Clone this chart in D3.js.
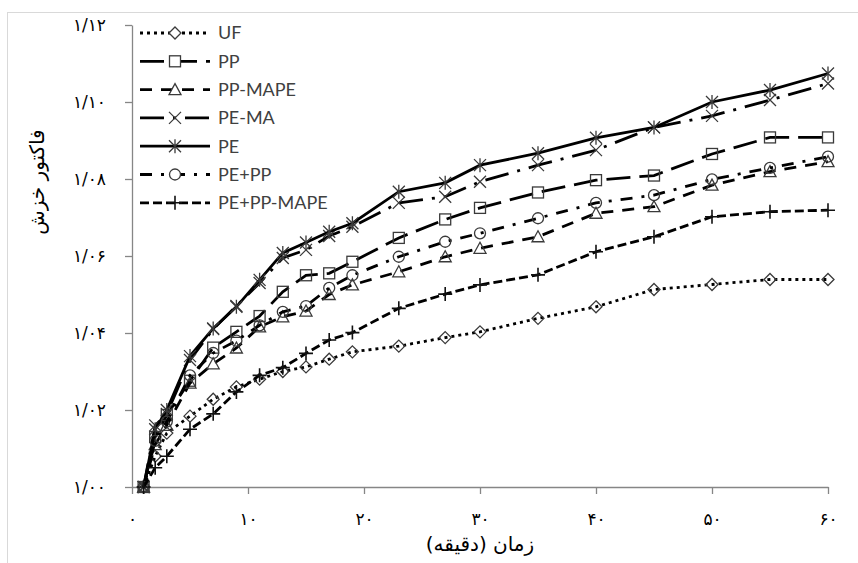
<!DOCTYPE html>
<html>
<head>
<meta charset="utf-8">
<script src="https://cdn.jsdelivr.net/npm/d3@7"></script>
<style>
  body { margin: 0; background: #fff; }
  svg { display: block; }
</style>
</head>
<body>
<div id="chart"></div>
<script>
// time (minutes)
const minutes = [1, 2, 3, 5, 7, 9, 11, 13, 15, 17, 19, 23, 27, 30, 35, 40, 45, 50, 55, 60];

// creep factor per series
const uf       = [1.000, 1.008, 1.014, 1.0184, 1.0228, 1.026, 1.028, 1.030, 1.0312, 1.0332, 1.0351, 1.0366, 1.0388, 1.0403, 1.0438, 1.0468, 1.0513, 1.0526, 1.0539, 1.0539];
const pp       = [1.000, 1.013, 1.0187, 1.0276, 1.0362, 1.0403, 1.0444, 1.0507, 1.055, 1.0555, 1.0585, 1.0647, 1.0695, 1.0725, 1.0765, 1.0797, 1.0809, 1.0865, 1.0908, 1.0908];
const ppMape   = [1.000, 1.011, 1.016, 1.027, 1.032, 1.0361, 1.0416, 1.0442, 1.0457, 1.050, 1.0525, 1.0559, 1.0598, 1.062, 1.065, 1.0711, 1.0728, 1.0784, 1.0819, 1.0845];
const peMa     = [1.000, 1.016, 1.019, 1.033, 1.041, 1.047, 1.053, 1.0595, 1.0616, 1.0652, 1.0676, 1.0738, 1.0754, 1.0793, 1.0836, 1.0875, 1.0934, 1.0964, 1.1005, 1.1048];
const pe       = [1.000, 1.015, 1.020, 1.034, 1.0412, 1.0468, 1.0538, 1.0608, 1.0635, 1.0663, 1.0685, 1.0767, 1.079, 1.0836, 1.0867, 1.0907, 1.0934, 1.100, 1.1031, 1.1074];
const pePp     = [1.000, 1.012, 1.017, 1.029, 1.0348, 1.038, 1.042, 1.0455, 1.047, 1.0517, 1.055, 1.0598, 1.0637, 1.0659, 1.0698, 1.0738, 1.0758, 1.0799, 1.0829, 1.0858];
const pePpMape = [1.000, 1.005, 1.008, 1.015, 1.019, 1.0247, 1.029, 1.031, 1.0347, 1.0382, 1.0401, 1.0464, 1.0501, 1.0525, 1.0551, 1.0611, 1.065, 1.0702, 1.0715, 1.0719];

const seriesNames = ["UF", "PP", "PP-MAPE", "PE-MA", "PE", "PE+PP", "PE+PP-MAPE"];
const seriesValues = [uf, pp, ppMape, peMa, pe, pePp, pePpMape];

const xTicks = [0, 10, 20, 30, 40, 50, 60];
const yTicks = [1.00, 1.02, 1.04, 1.06, 1.08, 1.10, 1.12];

const xTitle = "زمان (دقیقه)";
const yTitle = "فاکتور خزش";

// line dash + marker for each series (Excel style)
const styles = [
  { dash: "3 4",        marker: "diamond" },
  { dash: "24 9",       marker: "square" },
  { dash: "12 9",       marker: "triangle" },
  { dash: "24 9 3 9",   marker: "x" },
  { dash: null,         marker: "star" },
  { dash: "12 9 3 9",   marker: "circle" },
  { dash: "9 4",        marker: "plus" }
];

const width = 858, height = 563;
const x = d3.scaleLinear().domain([0, 60]).range([132, 828]);
const y = d3.scaleLinear().domain([1.00, 1.12]).range([487, 25]);

const fa = s => String(s).replace(/\d/g, d => "۰۱۲۳۴۵۶۷۸۹"[d]);

const svg = d3.select("#chart").append("svg")
  .attr("width", width)
  .attr("height", height);

// outer chart border
svg.append("rect")
  .attr("x", 7.5).attr("y", 12.5)
  .attr("width", 860).attr("height", 560)
  .attr("fill", "none")
  .attr("stroke", "#d9d9d9");

// axes
const xAxis = svg.append("g")
  .attr("transform", `translate(0,${y(1.00)})`)
  .call(d3.axisBottom(x).tickValues(xTicks).tickSize(7).tickSizeOuter(0).tickPadding(19).tickFormat(d => fa(d)));

const yAxis = svg.append("g")
  .attr("transform", `translate(${x(0)},0)`)
  .call(d3.axisLeft(y).tickValues(yTicks).tickSize(7).tickSizeOuter(0).tickPadding(19)
    .tickFormat(d => fa(d3.format(".2f")(d).replace(".", "/"))));

[xAxis, yAxis].forEach(g => {
  g.select(".domain").attr("stroke", "#868686").attr("stroke-width", 1.3);
  g.selectAll(".tick line").attr("stroke", "#868686").attr("stroke-width", 1.3);
  g.selectAll(".tick text")
    .attr("fill", "#000")
    .attr("font-family", "DejaVu Sans, sans-serif")
    .attr("font-size", 17);
});

svg.append("text")
  .attr("x", x(30)).attr("y", 551)
  .attr("text-anchor", "middle")
  .attr("font-family", "DejaVu Sans, sans-serif")
  .attr("font-size", 20)
  .text(xTitle);

svg.append("text")
  .attr("transform", "translate(44,182) rotate(-90)")
  .attr("text-anchor", "middle")
  .attr("font-family", "DejaVu Sans, sans-serif")
  .attr("font-size", 20)
  .text(yTitle);

// markers
function drawMarker(g, type, cx, cy) {
  const m = g.append("g").attr("transform", `translate(${cx},${cy})`)
    .attr("fill", "none").attr("stroke", "#3a3a3a").attr("stroke-width", 1.3);
  if (type === "diamond") m.append("path").attr("d", "M0,-6L6,0L0,6L-6,0Z");
  else if (type === "square") m.append("rect").attr("x", -5.5).attr("y", -5.5).attr("width", 11).attr("height", 11);
  else if (type === "triangle") m.append("path").attr("d", "M0,-6L6,5L-6,5Z");
  else if (type === "circle") m.append("circle").attr("r", 5.5);
  else if (type === "x") m.append("path").attr("d", "M-6,-6L6,6M-6,6L6,-6");
  else if (type === "star") m.append("path").attr("d", "M-6,-6L6,6M-6,6L6,-6M0,-7L0,7");
  else if (type === "plus") m.append("path").attr("d", "M-7,0L7,0M0,-7L0,7").attr("stroke", "#111").attr("stroke-width", 1.6);
  return m;
}

const line = d3.line()
  .x(d => x(d[0]))
  .y(d => y(d[1]));

const plot = svg.append("g");

seriesValues.forEach((vals, i) => {
  const pts = minutes.map((m, j) => [m, vals[j]]);
  const g = plot.append("g");
  g.append("path")
    .datum(pts)
    .attr("d", line)
    .attr("fill", "none")
    .attr("stroke", "#000")
    .attr("stroke-width", 2.8)
    .attr("stroke-dasharray", styles[i].dash);
  pts.forEach(p => drawMarker(g, styles[i].marker, x(p[0]), y(p[1])));
});

// legend
const legend = svg.append("g");
seriesNames.forEach((name, i) => {
  const ly = 33 + i * 28.3;
  legend.append("line")
    .attr("x1", 140).attr("x2", 210)
    .attr("y1", ly).attr("y2", ly)
    .attr("stroke", "#000")
    .attr("stroke-width", 2.8)
    .attr("stroke-dasharray", styles[i].dash);
  const mk = drawMarker(legend, styles[i].marker, 175, ly);
  if (["diamond", "square", "triangle", "circle"].includes(styles[i].marker)) mk.attr("fill", "#fff");
  legend.append("text")
    .attr("x", 218).attr("y", ly)
    .attr("dy", "0.35em")
    .attr("font-family", "Lato, sans-serif")
    .attr("font-size", 18)
    .attr("fill", "#404040")
    .text(name);
});
</script>
</body>
</html>
